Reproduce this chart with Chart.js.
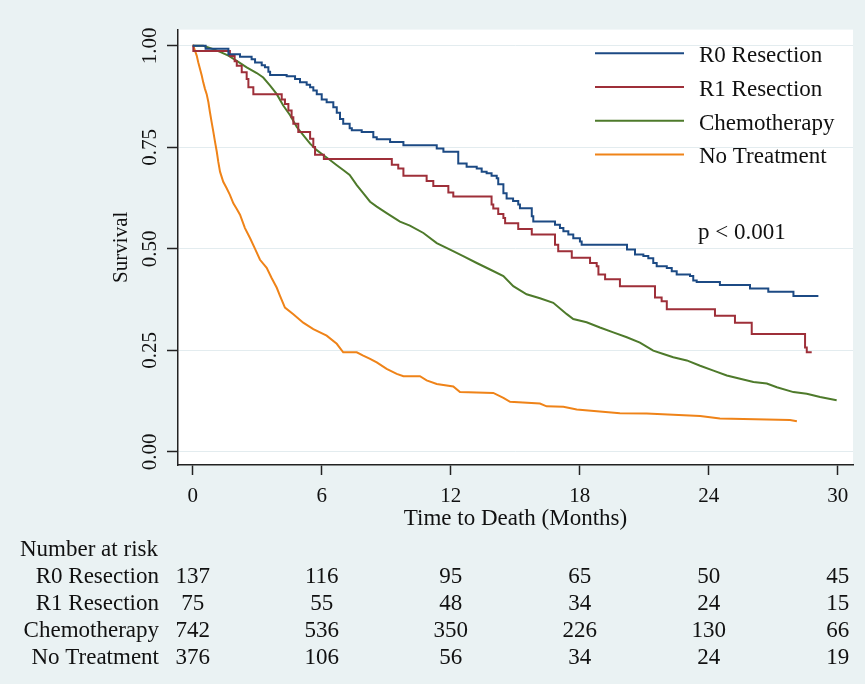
<!DOCTYPE html>
<html><head><meta charset="utf-8">
<script src="https://cdn.jsdelivr.net/npm/chart.js@4/dist/chart.umd.min.js"></script>
<style>html,body{margin:0;padding:0;background:#eaf2f3;}#wrap{width:865px;height:684px;}</style>
</head><body><div id="wrap"><canvas id="c" width="865" height="684"></canvas></div>
<script>
const seriesNames = ['R0 Resection', 'R1 Resection', 'Chemotherapy', 'No Treatment'];

const r0Time = [0, 0.6, 1.66, 2.2, 2.74, 2.9, 3.21, 3.36, 3.52, 3.6, 4.37, 4.76, 4.99, 5.3, 5.46, 5.61, 5.77, 6.0, 6.23, 6.54, 6.7, 6.85, 7.0, 7.3, 7.4, 7.86, 8.4, 8.56, 9.18, 9.8, 11.35, 11.66, 12.35, 12.74, 13.21, 13.44, 13.67, 13.9, 14.14, 14.21, 14.45, 14.6, 14.9, 15.14, 15.22, 15.77, 15.84, 16.85, 17.08, 17.24, 17.47, 17.7, 18.01, 18.09, 20.2, 20.57, 20.96, 21.19, 21.42, 21.58, 22.05, 22.28, 22.51, 23.13, 23.28, 23.44, 24.52, 25.92, 26.77, 27.94, 29.1];
const r0Surv = [1.0, 0.993, 0.979, 0.973, 0.967, 0.959, 0.952, 0.947, 0.936, 0.928, 0.925, 0.918, 0.910, 0.904, 0.898, 0.890, 0.881, 0.868, 0.861, 0.849, 0.835, 0.820, 0.808, 0.797, 0.792, 0.788, 0.775, 0.770, 0.763, 0.755, 0.747, 0.739, 0.710, 0.702, 0.698, 0.690, 0.686, 0.680, 0.674, 0.659, 0.637, 0.624, 0.618, 0.609, 0.600, 0.580, 0.567, 0.559, 0.551, 0.543, 0.535, 0.526, 0.518, 0.510, 0.498, 0.486, 0.482, 0.477, 0.465, 0.457, 0.453, 0.445, 0.437, 0.433, 0.422, 0.418, 0.411, 0.402, 0.394, 0.384, 0.384];

const r1Time = [0, 0.03, 1.73, 1.95, 2.05, 2.28, 2.51, 2.59, 2.82, 4.14, 4.29, 4.45, 4.6, 4.68, 4.91, 5.46, 5.61, 5.69, 6.1, 9.26, 9.56, 9.8, 10.88, 11.19, 11.89, 12.12, 13.9, 13.98, 14.21, 14.45, 14.53, 15.14, 15.77, 16.85, 17.0, 17.63, 18.48, 18.79, 18.87, 19.18, 19.87, 21.5, 21.81, 22.05, 24.29, 25.22, 26.0, 28.48, 28.56, 28.79];
const r1Surv = [1.0, 0.987, 0.975, 0.962, 0.951, 0.935, 0.918, 0.898, 0.881, 0.868, 0.857, 0.841, 0.824, 0.808, 0.788, 0.771, 0.751, 0.732, 0.721, 0.707, 0.698, 0.680, 0.667, 0.655, 0.639, 0.629, 0.609, 0.599, 0.586, 0.576, 0.563, 0.549, 0.535, 0.510, 0.494, 0.478, 0.465, 0.457, 0.437, 0.425, 0.408, 0.380, 0.371, 0.351, 0.335, 0.318, 0.290, 0.257, 0.245, 0.245];

const chemoTime = [0, 0.49, 0.96, 1.27, 1.66, 2.05, 2.51, 2.98, 3.28, 3.6, 3.91, 4.21, 4.53, 4.84, 5.14, 5.46, 5.77, 6.07, 6.4, 6.7, 7.0, 7.3, 7.63, 7.93, 8.25, 8.56, 9.02, 9.64, 10.1, 10.73, 11.35, 11.97, 12.58, 13.21, 13.83, 14.45, 14.91, 15.53, 16.15, 16.77, 17.4, 17.7, 18.32, 18.94, 19.56, 20.19, 20.8, 21.42, 21.89, 22.35, 22.98, 23.6, 24.22, 24.84, 25.46, 26.08, 26.7, 27.17, 27.94, 28.56, 29.18, 29.95];
const chemoSurv = [1.0, 1.0, 0.992, 0.985, 0.976, 0.963, 0.947, 0.933, 0.922, 0.902, 0.881, 0.853, 0.829, 0.800, 0.780, 0.759, 0.743, 0.731, 0.718, 0.706, 0.694, 0.682, 0.657, 0.637, 0.616, 0.604, 0.588, 0.567, 0.557, 0.539, 0.514, 0.498, 0.482, 0.465, 0.449, 0.433, 0.408, 0.388, 0.378, 0.367, 0.339, 0.327, 0.319, 0.306, 0.294, 0.282, 0.269, 0.249, 0.241, 0.233, 0.225, 0.212, 0.200, 0.188, 0.180, 0.172, 0.168, 0.159, 0.147, 0.143, 0.135, 0.127];

const noTxTime = [0, 0.03, 0.107, 0.186, 0.26, 0.34, 0.42, 0.49, 0.57, 0.65, 0.73, 0.80, 0.88, 0.96, 1.04, 1.12, 1.19, 1.27, 1.42, 1.58, 1.73, 1.89, 2.05, 2.2, 2.43, 2.67, 2.9, 3.13, 3.44, 3.67, 3.91, 4.06, 4.29, 4.68, 5.14, 5.61, 6.23, 6.7, 7.0, 7.63, 7.93, 8.25, 8.56, 9.02, 9.49, 9.8, 10.57, 10.88, 11.35, 12.12, 12.43, 13.98, 14.45, 14.76, 16.15, 16.46, 17.24, 17.86, 19.87, 21.11, 22.35, 23.6, 24.52, 27.78, 28.1];
const noTxSurv = [1.0, 1.0, 0.988, 0.976, 0.959, 0.943, 0.927, 0.910, 0.894, 0.881, 0.861, 0.837, 0.812, 0.788, 0.763, 0.739, 0.714, 0.690, 0.665, 0.649, 0.633, 0.612, 0.598, 0.584, 0.551, 0.526, 0.500, 0.473, 0.453, 0.428, 0.404, 0.384, 0.355, 0.339, 0.318, 0.302, 0.286, 0.266, 0.245, 0.245, 0.237, 0.229, 0.220, 0.204, 0.192, 0.186, 0.186, 0.176, 0.167, 0.161, 0.147, 0.145, 0.133, 0.123, 0.119, 0.112, 0.111, 0.104, 0.095, 0.094, 0.091, 0.088, 0.082, 0.078, 0.075];

const xTickValues = [0, 6, 12, 18, 24, 30];
const yTickValues = [0, 0.25, 0.5, 0.75, 1];
const yTickLabels = ['0.00', '0.25', '0.50', '0.75', '1.00'];

const riskTimes = [0, 6, 12, 18, 24, 30];
const riskR0 = [137, 116, 95, 65, 50, 45];
const riskR1 = [75, 55, 48, 34, 24, 15];
const riskChemo = [742, 536, 350, 226, 130, 66];
const riskNoTx = [376, 106, 56, 34, 24, 19];
const riskTitle = 'Number at risk';
const pValueText = 'p < 0.001';

const FONT = "'Liberation Serif', 'Times New Roman', serif";
const TEXT = '#111111';
const palette = ['#1c4a84', '#9e2f39', '#4e7a2b', '#ef8318'];

function pts(t, s) { return t.map((v, i) => ({ x: v, y: s[i] })); }

const bgPlugin = {
  id: 'bg',
  beforeDraw(chart) {
    const ctx = chart.ctx, a = chart.chartArea;
    ctx.save();
    ctx.fillStyle = '#eaf2f3';
    ctx.fillRect(0, 0, chart.width, chart.height);
    ctx.fillStyle = '#ffffff';
    ctx.fillRect(a.left, a.top, a.right - a.left, a.bottom - a.top);
    ctx.restore();
    const items = chart.scales.y.getLabelItems();
    items.forEach(it => { it.options.textAlign = 'center'; it.options.textBaseline = 'middle'; it.textOffset = 0; });
  }
};

const overlayPlugin = {
  id: 'overlay',
  afterDraw(chart) {
    const ctx = chart.ctx, a = chart.chartArea;
    const xs = chart.scales.x, ys = chart.scales.y;
    ctx.save();
    ctx.font = '23px ' + FONT;
    ctx.fillStyle = TEXT;
    ctx.textBaseline = 'middle';
    chart.data.datasets.forEach((ds, i) => {
      const y = a.top + 23.7 + 33.7 * i;
      ctx.strokeStyle = ds.borderColor;
      ctx.lineWidth = 2;
      ctx.beginPath();
      ctx.moveTo(a.right - 258, y);
      ctx.lineTo(a.right - 169, y);
      ctx.stroke();
      ctx.textAlign = 'left';
      ctx.fillText(ds.label, a.right - 154, y + 3);
    });
    ctx.textAlign = 'left';
    ctx.fillText(pValueText, xs.getPixelForValue(23.5), ys.getPixelForValue(0.54));
    ctx.fillText(riskTitle, 20, 550);
    const rows = [riskR0, riskR1, riskChemo, riskNoTx];
    rows.forEach((row, i) => {
      const y = 577 + 27 * i;
      ctx.textAlign = 'right';
      ctx.fillText(seriesNames[i], a.left - 19, y);
      ctx.textAlign = 'center';
      row.forEach((n, j) => ctx.fillText(String(n), xs.getPixelForValue(riskTimes[j]), y));
    });
    ctx.restore();
  }
};

new Chart(document.getElementById('c'), {
  type: 'line',
  data: {
    datasets: [
      { label: seriesNames[0], data: pts(r0Time, r0Surv), borderColor: palette[0], stepped: true },
      { label: seriesNames[1], data: pts(r1Time, r1Surv), borderColor: palette[1], stepped: true },
      { label: seriesNames[2], data: pts(chemoTime, chemoSurv), borderColor: palette[2] },
      { label: seriesNames[3], data: pts(noTxTime, noTxSurv), borderColor: palette[3] }
    ]
  },
  options: {
    responsive: false,
    animation: false,
    devicePixelRatio: 1,
    elements: { line: { borderWidth: 2, tension: 0, fill: false }, point: { radius: 0, hitRadius: 0, hoverRadius: 0 } },
    layout: { padding: { left: 0, top: 27, right: 12, bottom: 149 } },
    plugins: { legend: { display: false }, tooltip: { enabled: false } },
    scales: {
      x: {
        type: 'linear', min: -0.684, max: 30.71,
        afterBuildTicks: s => { s.ticks = xTickValues.map(v => ({ value: v })); },
        afterFit: s => { s.height = 70; },
        grid: { drawOnChartArea: false, drawTicks: true, tickLength: 10, tickColor: '#222', tickWidth: 1.5 },
        border: { display: true, color: '#222', width: 1.5 },
        ticks: { font: { family: FONT, size: 21 }, color: TEXT, padding: 9, maxRotation: 0, autoSkip: false, callback: v => String(v) },
        title: { display: true, text: 'Time to Death (Months)', font: { family: FONT, size: 23 }, color: TEXT, padding: { top: 0, bottom: 2 } }
      },
      y: {
        type: 'linear', min: -0.0326, max: 1.040,
        afterBuildTicks: s => { s.ticks = yTickValues.map(v => ({ value: v })); },
        afterFit: s => { s.width = 178; },
        grid: { color: '#e3ecef', lineWidth: 1, drawTicks: true, tickLength: 11, tickColor: '#222', tickWidth: 1.5 },
        border: { display: true, color: '#222', width: 1.5 },
        ticks: { font: { family: FONT, size: 21 }, color: TEXT, padding: 17, minRotation: 90, maxRotation: 90, autoSkip: false,
                 callback: v => { const k = yTickValues.indexOf(v); return k >= 0 ? yTickLabels[k] : String(v); } },
        title: { display: true, text: 'Survival', font: { family: FONT, size: 21 }, color: TEXT, padding: { top: 109, bottom: 0 } }
      }
    }
  },
  plugins: [bgPlugin, overlayPlugin]
});
</script>
</body></html>
